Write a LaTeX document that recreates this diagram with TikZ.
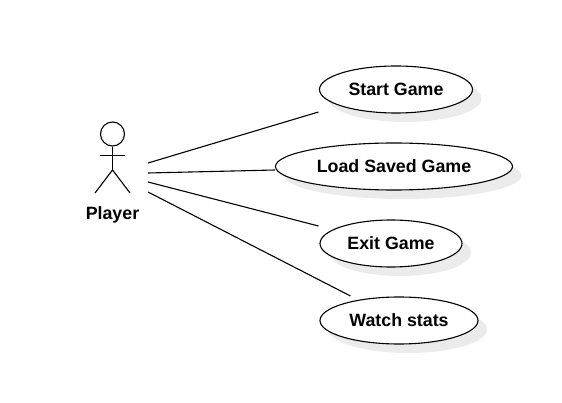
\documentclass[tikz,border=0pt]{standalone}
\usepackage{fontspec}
\setmainfont{Liberation Sans}
\usetikzlibrary{shapes.geometric,shadows}
\tikzstyle{usecase}=[ellipse,draw=black,fill=white,line width=1.1pt,inner sep=0pt,minimum height=47pt,text height=12.9pt,text depth=1.4pt,font=\fontsize{17.8}{20}\selectfont\bfseries,
  drop shadow={shadow xshift=9pt,shadow yshift=-9pt,fill=black!8,opacity=1}]
\tikzstyle{actorline}=[draw=black,line width=1.1pt]
\tikzstyle{assoc}=[draw=black,line width=1.1pt]

\begin{document}
\begin{tikzpicture}[x=1pt,y=1pt]
  \useasboundingbox (0,0) rectangle (562,402);
  % actor
  \node [circle,actorline,minimum size=24pt,inner sep=0pt] (head) at (112.5,268) {};
  \coordinate (hip) at (112.5,232);
  \draw [actorline] (head.south) -- (hip);
  \draw [actorline] ([xshift=-12.5pt,yshift=-9pt]head.south) -- ([xshift=12.5pt,yshift=-9pt]head.south);
  \draw [actorline] (95,209) -- (hip) -- (130,209);
  \node [font=\fontsize{17.8}{20}\selectfont\bfseries] (player) at (112.5,187.5) {Player};
  % casos de uso
  \node [usecase,minimum width=153pt] (start) at (396,312.5) {Start Game};
  \node [usecase,minimum width=237pt] (load) at (394,235.5) {Load Saved Game};
  \node [usecase,minimum width=142pt] (exit) at (391,158.5) {Exit Game};
  \node [usecase,minimum width=158pt] (watch) at (399,81.5) {Watch stats};
  % asociaciones
  \draw [assoc] ([shift={(35.5,-29)}]head.center) -- ([shift={(-0.5,-22.5)}]start.west);
  \draw [assoc] ([shift={(35.5,-39)}]head.center) -- ([shift={(0,-3.5)}]load.west);
  \draw [assoc] ([shift={(35.5,-48)}]head.center) -- ([shift={(-1,17.5)}]exit.west);
  \draw [assoc] ([shift={(35.5,-58)}]head.center) -- ([shift={(31,24.5)}]watch.west);
\end{tikzpicture}
\end{document}
